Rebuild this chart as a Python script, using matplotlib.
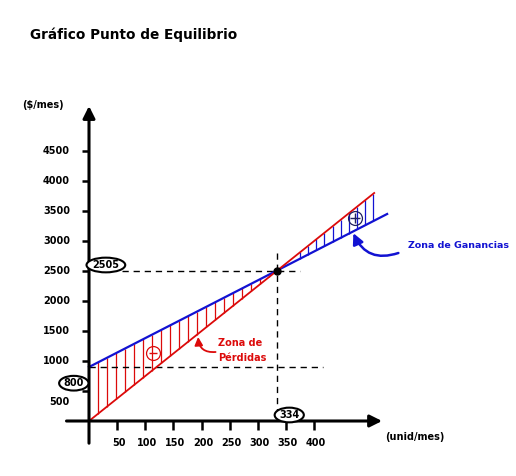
import numpy as np
import matplotlib.pyplot as plt

# values
x_ticks = [50, 100, 150, 200, 250, 300, 350, 400]
y_ticks = [500, 1000, 1500, 2000, 2500, 3000, 3500, 4000, 4500]
cost_x = [0, 530]          # costo total (azul)
cost_y = [900, 3450]
income_x = [0, 507]        # ingresos (rojo)
income_y = [0, 3800]
q_eq = 334                 # punto de equilibrio
v_eq = 2505
fixed_label = 800

RED = '#dc0a0a'
BLUE = '#1212d2'
FONT = 'DejaVu Sans'

fig = plt.figure(figsize=(5.16, 4.76), dpi=100)
ax = fig.add_axes([0, 0, 1, 1])
# page mapping: 0.5625 px per unit on x, 0.06 px per $ on y
ax.set_xlim(-89 / 0.5625, (516 - 89) / 0.5625)
ax.set_ylim((421 - 476) / 0.06, 421 / 0.06)
ax.axis('off')

fig.text(0.058, 0.926, 'Gráfico Punto de Equilibrio', fontsize=9.8, fontweight='bold',
         family=FONT, ha='left', va='center')

# axes with arrows
ax.annotate('', xy=(0, 5250), xytext=(0, -370),
            arrowprops=dict(arrowstyle='-|>', lw=2.2, color='black', mutation_scale=18,
                            shrinkA=0, shrinkB=0))
ax.annotate('', xy=(521, 0), xytext=(-40, 0),
            arrowprops=dict(arrowstyle='-|>', lw=2.2, color='black', mutation_scale=18,
                            shrinkA=0, shrinkB=0))

# y ticks
for v in y_ticks:
    ax.plot([-12, 0], [v, v], color='black', lw=1.8, solid_capstyle='butt')
    dy = -8 if v == 500 else 0
    ax.annotate(str(v), (-34, v), xytext=(0, dy), textcoords='offset points',
                ha='right', va='center', fontsize=7, fontweight='bold', family=FONT)
# x ticks
for v in x_ticks:
    ax.plot([v, v], [0, -150], color='black', lw=1.8, solid_capstyle='butt')
    ax.text(v + 3, -370, str(v), ha='center', va='center', fontsize=7,
            fontweight='bold', family=FONT)

ax.text(-82, 5270, '($/mes)', ha='center', va='center', fontsize=7, fontweight='bold', family=FONT)
ax.text(580, -270, '(unid/mes)', ha='center', va='center', fontsize=7, fontweight='bold', family=FONT)

# hatching between the lines
def cost_at(x):
    return np.interp(x, cost_x, cost_y)

def income_at(x):
    return np.interp(x, income_x, income_y)

hx_loss = np.arange(16, 330, 16)
ax.vlines(hx_loss, income_at(hx_loss), cost_at(hx_loss), color=RED, lw=0.9)
hx_gain = np.arange(375, 507, 14.5)
ax.vlines(hx_gain, cost_at(hx_gain), income_at(hx_gain), color=BLUE, lw=0.9)

# dashed guide lines
ax.plot([58, 375], [v_eq, v_eq], color='black', lw=1, dashes=(4.5, 3.5))
ax.plot([q_eq, q_eq], [2800, 180], color='black', lw=1, dashes=(4.5, 3.5))
ax.plot([0, 416], [cost_y[0], cost_y[0]], color='black', lw=1, dashes=(4.5, 3.5))

# lines
ax.plot(cost_x, cost_y, color=BLUE, lw=1.6)
ax.plot(income_x, income_y, color=RED, lw=1.3)
ax.plot([q_eq], [v_eq], 'o', color='black', ms=5)

# labelled values
ell = dict(boxstyle='ellipse,pad=0.02', fc='white', ec='black', lw=1.5)
ax.text(30, 2600, str(v_eq), ha='center', va='center', fontsize=7, fontweight='bold',
        family=FONT, bbox=ell)
ax.text(-27, 630, str(fixed_label), ha='center', va='center', fontsize=7, fontweight='bold',
        family=FONT, bbox=ell)
ax.text(356, 100, str(q_eq), ha='center', va='center', fontsize=7, fontweight='bold',
        family=FONT, bbox=ell)

# signs
ax.plot([114], [1130], 'o', ms=10, mfc='none', mec=RED, mew=0.9)
ax.plot([114], [1130], '_', ms=6, mec=RED, mew=1)
ax.plot([473], [3380], 'o', ms=10, mfc='none', mec='#202060', mew=0.9)
ax.plot([473], [3380], '+', ms=7, mec='#202060', mew=1)

# zone labels
ax.text(229, 1300, 'Zona de', color=RED, ha='left', va='center', fontsize=7,
        fontweight='bold', family=FONT)
ax.text(229, 1050, 'Pérdidas', color=RED, ha='left', va='center', fontsize=7,
        fontweight='bold', family=FONT)
ax.annotate('', xy=(194, 1400), xytext=(225, 1150),
            arrowprops=dict(arrowstyle='-|>', color=RED, lw=1.3, mutation_scale=12,
                            connectionstyle='arc3,rad=-0.5', shrinkA=0, shrinkB=0))

ax.text(567, 2920, 'Zona de Ganancias', color=BLUE, ha='left', va='center', fontsize=6.8,
        fontweight='bold', family=FONT)
ax.annotate('', xy=(470, 3130), xytext=(550, 2800),
            arrowprops=dict(arrowstyle='-|>', color=BLUE, lw=1.8, mutation_scale=16,
                            connectionstyle='arc3,rad=-0.45', shrinkA=0, shrinkB=0))

fig.savefig('out.png', dpi=100)
